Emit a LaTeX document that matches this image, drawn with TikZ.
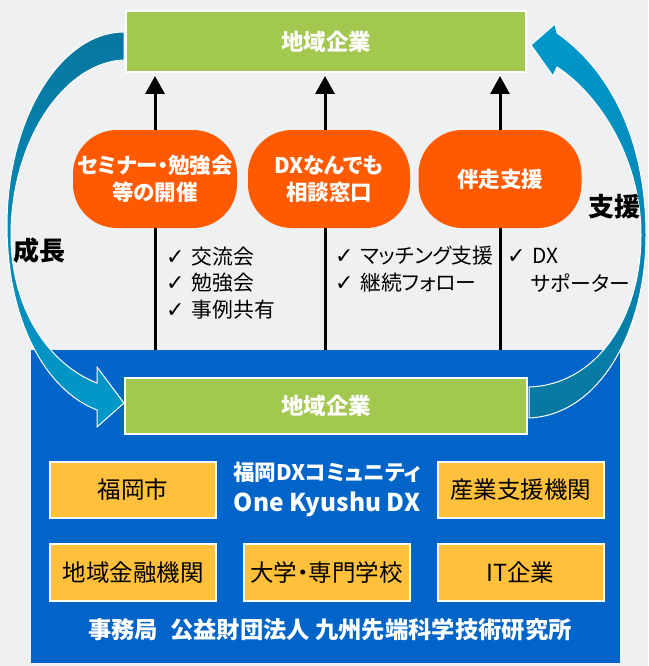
\documentclass[tikz,border=0pt]{standalone}
\usepackage{fontspec}
\setmainfont{Noto Sans CJK JP}[RawFeature=+palt]
\newfontfamily\symf{DejaVu Sans}
\usetikzlibrary{arrows.meta,calc}
\definecolor{bgc}{HTML}{EFF0F2}
\definecolor{grn}{HTML}{A2C850}
\definecolor{org}{HTML}{FF5A00}
\definecolor{ylw}{HTML}{FFC03C}
\definecolor{blu}{HTML}{0064C8}
\definecolor{arcd}{HTML}{08779F}
\definecolor{arcl}{HTML}{0099CC}
\pgfdeclarelayer{back}
\pgfdeclarelayer{mid}
\pgfsetlayers{back,mid,main}
\newcommand{\ck}{{\symf\fontsize{22}{24}\selectfont ✓}\hspace{7pt}}
\begin{document}
\begin{tikzpicture}[x=1pt,y=-1pt,
  gbox/.style={fill=grn, draw=white, line width=2pt, text=white,
    font=\bfseries\fontsize{22.5}{26}\selectfont, inner sep=0pt, minimum width=400pt},
  obox/.style={fill=org, rounded corners=44pt, text=white,
    font=\bfseries\fontsize{21.5}{26.5}\selectfont, align=center, inner sep=0pt,
    minimum height=98pt},
  ybox/.style={fill=ylw, draw=white, line width=2pt, text=black,
    font=\fontsize{23.5}{26}\selectfont, inner sep=0pt, minimum width=166pt, minimum height=56pt},
  wtxt/.style={text=white, font=\bfseries\fontsize{21.5}{24}\selectfont, inner sep=0pt},
  btxt/.style={text=black, font=\bfseries\fontsize{26}{30}\selectfont, inner sep=0pt},
  chk/.style={text=black, font=\fontsize{20.8}{24}\selectfont, inner sep=0pt, anchor=west},
  arr/.style={line width=3pt, -{Triangle[width=19pt,length=18pt]}, shorten >=3pt},
  bigarc/.style={draw=white, line width=1pt}
]
\begin{pgfonlayer}{back}
  \fill[bgc] (0,0) rectangle (648,666);
  \node[fill=blu, minimum width=589pt, minimum height=313pt, inner sep=0pt] (blue) at (325.5,506.5) {};
\end{pgfonlayer}

% green boxes
\node[gbox, minimum height=61pt] (gtop) at (326,41.5) {地域企業};
\node[gbox, minimum width=402pt, minimum height=56pt] (gbot) at (326,406) {地域企業};

% orange rounded boxes
\node[obox, minimum width=164pt] (ob1) at (155,179) {セミナー・勉強会\\等の開催};
\node[obox, minimum width=162pt] (ob2) at (329,179) {DXなんでも\\相談窓口};
\node[obox, minimum width=163pt] (ob3) at (500,179) {伴走支援};

% yellow boxes
\node[ybox] (y1) at (133,490) {福岡市};
\node[ybox] (y2) at (520.5,490) {産業支援機関};
\node[ybox, minimum height=57pt] (y3) at (133,572.5) {地域金融機関};
\node[ybox, minimum height=57pt] (y4) at (326.5,572.5) {大学・専門学校};
\node[ybox, minimum height=57pt] (y5) at (520.5,572.5) {IT企業};

% white texts in blue area
\node[wtxt] (comm) at (327,472) {福岡DXコミュニティ};
\node[wtxt, font=\bfseries\fontsize{24.5}{28}\selectfont] (okd) at (327,504) {One Kyushu DX};
\node[wtxt, font=\bfseries\fontsize{23.3}{26}\selectfont] (jim) at (330,630) {事務局\hspace{12pt}公益財団法人 九州先端科学技術研究所};

% side labels
\node[btxt] (seicho) at (39,251) {成長};
\node[btxt] (shien) at (614,207) {支援};

% check lists
\node[chk] (c1) at (166,257) {\ck 交流会};
\node[chk] (c2) at (166,283) {\ck 勉強会};
\node[chk] (c3) at (166,310) {\ck 事例共有};
\node[chk] (c4) at (335,256) {\ck マッチング支援};
\node[chk] (c5) at (335,283) {\ck 継続フォロー};
\node[chk] (c6) at (507,256) {\ck DX};
\node[chk] (c7) at (531,283) {サポーター};

\begin{pgfonlayer}{mid}
  % big curved arrows
  \shadedraw[bigarc, top color=arcd, bottom color=arcl]
    ($(gtop.west)+(-1,-9.5)$) .. controls (60,32) and (7,120) .. (7,225)
    .. controls (7,320) and (45,390) .. (97,410)
    -- (97,427) -- ($(gbot.west)+(0,-3)$) -- (97,367) -- (97,383)
    .. controls (50,365) and (11,310) .. (11,235)
    .. controls (11,140) and (65,62) .. ($(gtop.west)+(-1,18.5)$) -- cycle;
  \shadedraw[bigarc, top color=arcl, bottom color=arcd]
    ($(gbot.east)+(1,12)$) .. controls (600,415) and (646,330) .. (646,235)
    .. controls (646,140) and (610,70) .. (557,33)
    -- (555,24) -- ($(gtop.east)+(4,3.5)$) -- (553,76) -- (557,67)
    .. controls (600,95) and (641,160) .. (641,235)
    .. controls (641,320) and (595,385) .. ($(gbot.east)+(1,-19)$) -- cycle;
  % black arrows
  \coordinate (a2) at (325,0);
  \draw[arr] (blue.north -| ob1) -- (gtop.south -| ob1);
  \draw[arr] (blue.north -| a2) -- (gtop.south -| a2);
  \draw[arr] (blue.north -| ob3) -- (gtop.south -| ob3);
\end{pgfonlayer}
\end{tikzpicture}
\end{document}
